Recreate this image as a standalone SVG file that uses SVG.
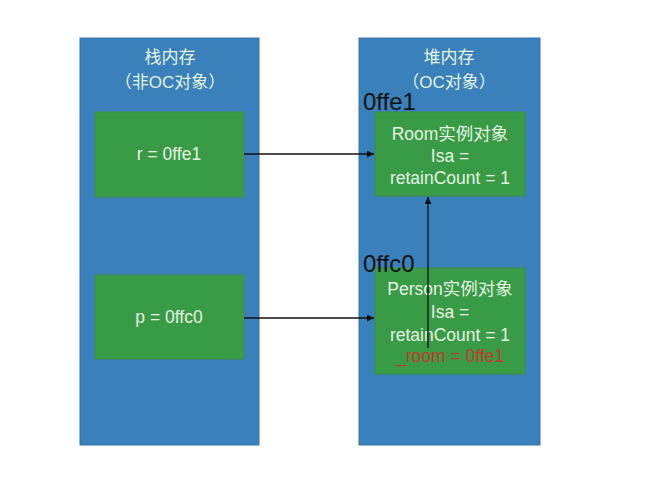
<svg xmlns="http://www.w3.org/2000/svg" width="650" height="489" viewBox="0 0 650 489">
<defs>
<style>
.panel{fill:#3a80ba;stroke:#3575ab;stroke-width:1}
.box{fill:#3a9b47;stroke:#3a8f45;stroke-width:1}
.t{font-family:"Liberation Sans","Noto Sans CJK SC",sans-serif;font-size:17.5px;fill:#e4f3e2;text-anchor:middle}
.h{font-size:17px}
.addr{font-family:"Liberation Sans",sans-serif;font-size:24px;fill:#111}
.red{fill:#c0392b}
.conn{stroke:#111;stroke-width:1.3;fill:none;marker-end:url(#ah)}
</style>
<marker id="ah" viewBox="0 0 10 10" refX="10" refY="5" markerWidth="7" markerHeight="7" markerUnits="userSpaceOnUse" orient="auto">
<path d="M0,0 L10,5 L0,10 z" fill="#111"/>
</marker>
</defs>
<rect width="650" height="489" fill="#fff"/>
<g id="stack">
<rect class="panel" x="80" y="38" width="179" height="407"/>
<text class="t h" x="170" y="63">栈内存</text>
<text class="t h" x="170" y="88">（非OC对象）</text>
</g>
<g id="heap">
<rect class="panel" x="359" y="38" width="181" height="407"/>
<text class="t h" x="449" y="63">堆内存</text>
<text class="t h" x="449" y="88">（OC对象）</text>
</g>
<g id="var-r">
<rect class="box" x="95" y="112" width="149" height="85"/>
<text class="t" x="169" y="160">r = 0ffe1</text>
</g>
<g id="var-p">
<rect class="box" x="95" y="275" width="149" height="84"/>
<text class="t" x="169" y="323">p = 0ffc0</text>
</g>
<g id="room">
<rect class="box" x="375" y="112" width="150" height="84"/>
<text class="addr" x="363" y="110">0ffe1</text>
<text class="t" x="450" y="140">Room实例对象</text>
<text class="t" x="450" y="162">Isa =</text>
<text class="t" x="450" y="184">retainCount = 1</text>
</g>
<g id="person">
<rect class="box" x="375" y="268" width="150" height="106"/>
<text class="addr" x="363" y="272">0ffc0</text>
<text class="t" x="450" y="295">Person实例对象</text>
<text class="t" x="450" y="318">Isa =</text>
<text class="t" x="450" y="341">retainCount = 1</text>
<text class="t red" x="450" y="362">_room = 0ffe1</text>
</g>
<g id="connectors">
<line class="conn" x1="244" y1="154" x2="374" y2="154"/>
<line class="conn" x1="244" y1="318" x2="374" y2="318"/>
<line class="conn" x1="428" y1="348" x2="428" y2="197"/>
</g>
</svg>
